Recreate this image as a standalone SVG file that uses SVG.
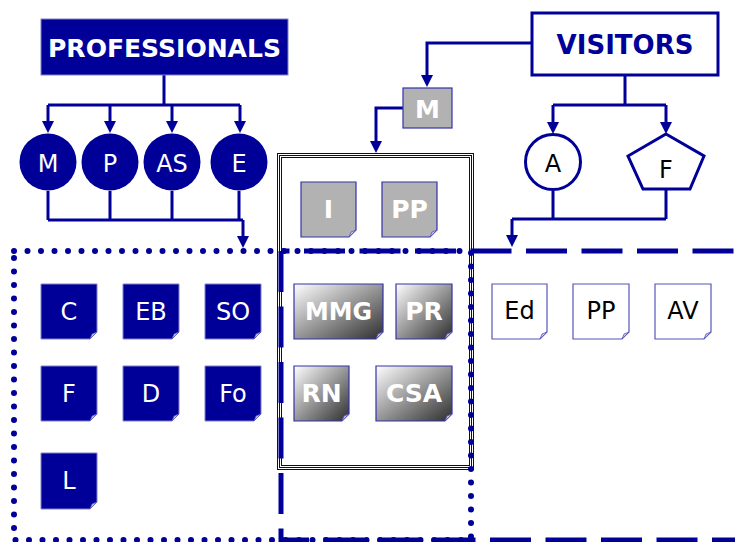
<svg xmlns="http://www.w3.org/2000/svg" width="735" height="542" viewBox="0 0 735 542">
<style>
.ln{fill:none;stroke:#000099;stroke-width:3}
.arr{fill:none;stroke:#000099;stroke-width:3;marker-end:url(#ah)}
.bdoc{fill:#000099;stroke:#8080cc;stroke-width:1}
.gdoc{fill:#b2b2b2;stroke:#3333aa;stroke-width:1.2}
.rdoc{fill:url(#grad);stroke:#3333aa;stroke-width:1.2}
.wdoc{fill:#ffffff;stroke:#5555bb;stroke-width:1.2}
.fold{fill:#c8c8ee;stroke:#5555bb;stroke-width:0.8}
.tw{font-family:"DejaVu Sans",sans-serif;font-size:24px;fill:#ffffff;text-anchor:middle}
.tb{font-family:"DejaVu Sans",sans-serif;font-size:24px;fill:#000000;text-anchor:middle}
.tbold{font-family:"DejaVu Sans",sans-serif;font-size:25px;font-weight:bold;fill:#ffffff;text-anchor:middle}
.dots{fill:none;stroke:#000099;stroke-width:6;stroke-linecap:round;stroke-dasharray:0 13.5}
.dash{fill:none;stroke:#000099;stroke-width:5;stroke-dasharray:41 14.5}
.tri{fill:none;stroke:#000099;stroke-width:1}
</style>
<defs>
<marker id="ah" markerUnits="userSpaceOnUse" markerWidth="12" markerHeight="12" refX="0" refY="6" orient="auto">
<path d="M0 0 L12 6 L0 12 Z" fill="#000099"/>
</marker>
<linearGradient id="grad" x1="0" y1="0" x2="1" y2="1">
<stop offset="0" stop-color="#ffffff"/>
<stop offset="1" stop-color="#2e2e2e"/>
</linearGradient>
</defs>

<!-- region boxes -->
<g id="regions">
<rect x="277.5" y="153.5" width="196" height="316" class="tri"/>
<rect x="279.5" y="155.5" width="192" height="312" class="tri"/>
<rect x="281.5" y="157.5" width="188" height="308" class="tri"/>
<line x1="281" y1="251" x2="281" y2="545" class="dash"/>
<line x1="281" y1="251" x2="740" y2="251" class="dash" stroke-dashoffset="32.5"/>
<line x1="281" y1="540" x2="740" y2="540" class="dash" stroke-dashoffset="13"/>
<path d="M14 251 H471 V540 H14 Z" class="dots"/>
</g>

<g id="connectors">
<path d="M164 75 V105 M48 105 H240" class="ln"/>
<path d="M48 105 V121" class="arr"/>
<path d="M110 105 V121" class="arr"/>
<path d="M172 105 V121" class="arr"/>
<path d="M240 105 V121" class="arr"/>
<path d="M48 191 V220 M110 191 V220 M172 191 V220 M239 191 V220 M48 220 H243" class="ln"/>
<path d="M243 220 V236" class="arr"/>
<path d="M532 43 H427 V75" class="arr"/>
<path d="M403 108 H376 V141" class="arr"/>
<path d="M625 75 V105 M553 105 H666" class="ln"/>
<path d="M553 105 V122" class="arr"/>
<path d="M666 105 V122" class="arr"/>
<path d="M553 191 V219 M666 189 V219 M512 219 H666" class="ln"/>
<path d="M512 219 V235" class="arr"/>
</g>

<g id="professionals">
<rect x="41" y="19" width="247" height="56" fill="#000099" stroke="#8080cc" stroke-width="1"/>
<text x="164.5" y="57" font-family="DejaVu Sans,sans-serif" font-size="25" font-weight="bold" fill="#ffffff" text-anchor="middle" textLength="233" lengthAdjust="spacingAndGlyphs">PROFESSIONALS</text>
</g>
<g id="visitors">
<rect x="532" y="13" width="186" height="62" fill="#ffffff" stroke="#000099" stroke-width="3"/>
<text x="625" y="54" font-family="DejaVu Sans,sans-serif" font-size="26" font-weight="bold" fill="#000099" text-anchor="middle">VISITORS</text>
</g>

<g id="circle-M"><circle cx="48" cy="162" r="28.5" fill="#000099"/><text x="48" y="172" class="tw">M</text></g>
<g id="circle-P"><circle cx="110" cy="162" r="28.5" fill="#000099"/><text x="110" y="172" class="tw">P</text></g>
<g id="circle-AS"><circle cx="172" cy="162" r="28.5" fill="#000099"/><text x="172" y="172" class="tw">AS</text></g>
<g id="circle-E"><circle cx="239" cy="162" r="28.5" fill="#000099"/><text x="239" y="172" class="tw">E</text></g>

<g id="circle-A"><circle cx="553" cy="162" r="27.5" fill="#ffffff" stroke="#000099" stroke-width="3"/><text x="553" y="172" class="tb">A</text></g>
<g id="pentagon-F"><path d="M666 134 L704 156 L690 189 L643 189 L628 156 Z" fill="#ffffff" stroke="#000099" stroke-width="3"/><text x="666" y="178" class="tb">F</text></g>

<g id="box-M"><rect x="403" y="88" width="49" height="40" fill="#b2b2b2" stroke="#3333aa" stroke-width="1.2"/><text x="427.5" y="118" class="tbold">M</text></g>

<!-- blue docs -->
<g id="doc-C"><path d="M41 284 H97 V332 L90 339 H41 Z" class="bdoc"/><path d="M90 339 L97 332 L92 334 Z" class="fold"/><text x="69" y="320" class="tw">C</text></g>
<g id="doc-EB"><path d="M123 284 H179 V332 L172 339 H123 Z" class="bdoc"/><path d="M172 339 L179 332 L174 334 Z" class="fold"/><text x="151" y="320" class="tw">EB</text></g>
<g id="doc-SO"><path d="M205 284 H261 V332 L254 339 H205 Z" class="bdoc"/><path d="M254 339 L261 332 L256 334 Z" class="fold"/><text x="233" y="320" class="tw">SO</text></g>
<g id="doc-F"><path d="M41 366 H97 V414 L90 421 H41 Z" class="bdoc"/><path d="M90 421 L97 414 L92 416 Z" class="fold"/><text x="69" y="402" class="tw">F</text></g>
<g id="doc-D"><path d="M123 366 H179 V414 L172 421 H123 Z" class="bdoc"/><path d="M172 421 L179 414 L174 416 Z" class="fold"/><text x="151" y="402" class="tw">D</text></g>
<g id="doc-Fo"><path d="M205 366 H261 V414 L254 421 H205 Z" class="bdoc"/><path d="M254 421 L261 414 L256 416 Z" class="fold"/><text x="233" y="402" class="tw">Fo</text></g>
<g id="doc-L"><path d="M41 453 H97 V502 L90 509 H41 Z" class="bdoc"/><path d="M90 509 L97 502 L92 504 Z" class="fold"/><text x="69" y="489" class="tw">L</text></g>

<!-- gray docs -->
<g id="doc-I"><path d="M301 182 H356 V230 L349 237 H301 Z" class="gdoc"/><path d="M349 237 L356 230 L351 232 Z" class="fold"/><text x="328.5" y="218" class="tbold">I</text></g>
<g id="doc-PP1"><path d="M382 182 H437 V230 L430 237 H382 Z" class="gdoc"/><path d="M430 237 L437 230 L432 232 Z" class="fold"/><text x="409.5" y="218" class="tbold">PP</text></g>

<!-- gradient docs -->
<g id="doc-MMG"><path d="M294 284 H383 V332 L376 339 H294 Z" class="rdoc"/><path d="M376 339 L383 332 L378 334 Z" class="fold"/><text x="338.5" y="320" class="tbold" textLength="67" lengthAdjust="spacingAndGlyphs">MMG</text></g>
<g id="doc-PR"><path d="M396 284 H452 V332 L445 339 H396 Z" class="rdoc"/><path d="M445 339 L452 332 L447 334 Z" class="fold"/><text x="424" y="320" class="tbold">PR</text></g>
<g id="doc-RN"><path d="M294 366 H349 V414 L342 421 H294 Z" class="rdoc"/><path d="M342 421 L349 414 L344 416 Z" class="fold"/><text x="321.5" y="402" class="tbold">RN</text></g>
<g id="doc-CSA"><path d="M376 366 H452 V414 L445 421 H376 Z" class="rdoc"/><path d="M445 421 L452 414 L447 416 Z" class="fold"/><text x="414" y="402" class="tbold">CSA</text></g>

<!-- white docs -->
<g id="doc-Ed"><path d="M492 284 H547 V332 L540 339 H492 Z" class="wdoc"/><path d="M540 339 L547 332 L542 334 Z" class="fold"/><text x="519.5" y="319" class="tb">Ed</text></g>
<g id="doc-PP2"><path d="M573 284 H629 V332 L622 339 H573 Z" class="wdoc"/><path d="M622 339 L629 332 L624 334 Z" class="fold"/><text x="601" y="319" class="tb">PP</text></g>
<g id="doc-AV"><path d="M655 284 H711 V332 L704 339 H655 Z" class="wdoc"/><path d="M704 339 L711 332 L706 334 Z" class="fold"/><text x="683" y="319" class="tb">AV</text></g>
</svg>
